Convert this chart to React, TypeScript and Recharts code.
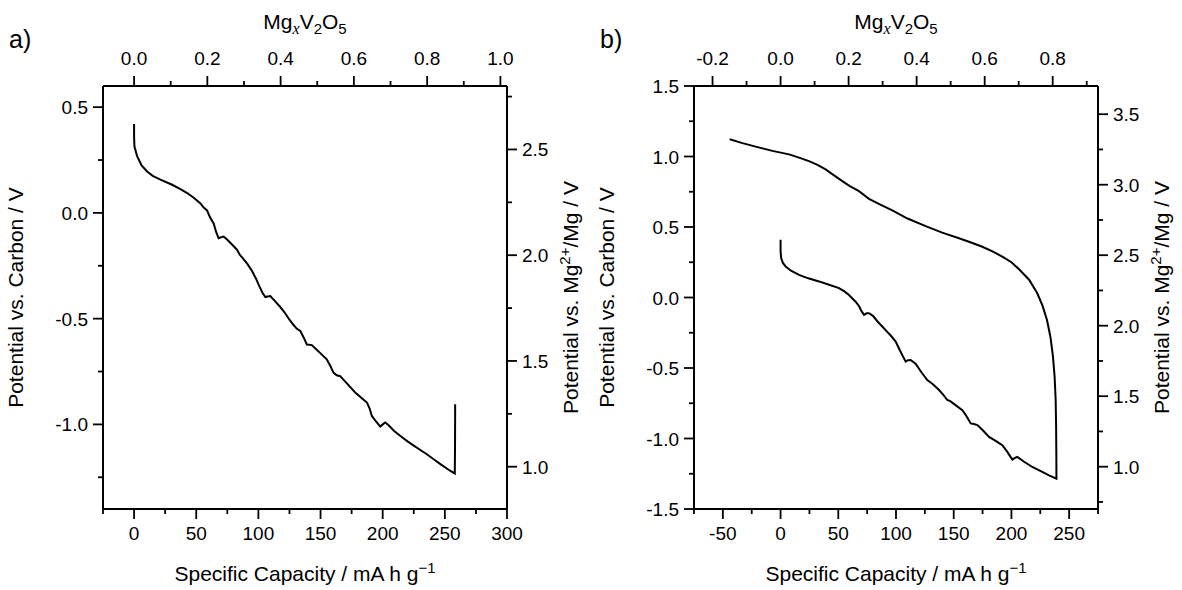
import React from "react";
import { LineChart, Line, XAxis, YAxis } from "recharts";

// capacity (mA h g-1) that corresponds to x = 1 in MgxV2O5
const CAP_PER_MG = 294.7;
// offset between the two potential scales (Mg2+/Mg minus carbon)
const REF_OFFSET = 2.2;

// panel a: first discharge
const A_CAP = [
	0, 0, 0.3, 2.5, 6, 10.5, 15, 21.2, 30.6, 37.3, 42.7, 48, 53.4, 56, 58.7, 61, 64, 66, 68, 70, 72, 74.8, 78, 82.8,
	85, 86.9, 91, 94.9, 98, 101, 103.5, 105.6, 107.5, 109.6, 113, 117.6, 121, 125, 128.3, 131, 133.7, 136.5, 139, 141,
	143, 146.5, 149.8, 155, 158, 160.4, 163, 165.8, 171, 177.9, 183, 187.3, 189.5, 191.3, 194.5, 198, 200, 202, 205,
	209, 214, 220, 225, 230, 235.5, 241, 247, 254.2, 258, 258.2, 258.3,
];
const A_POT = [
	0.42, 0.36, 0.314, 0.267, 0.225, 0.196, 0.175, 0.157, 0.133, 0.112, 0.094, 0.072, 0.045, 0.025, 0.012, -0.02,
	-0.05, -0.09, -0.12, -0.115, -0.112, -0.126, -0.145, -0.174, -0.198, -0.21, -0.24, -0.275, -0.31, -0.35, -0.38,
	-0.398, -0.395, -0.393, -0.415, -0.445, -0.47, -0.505, -0.53, -0.548, -0.558, -0.59, -0.622, -0.623, -0.625,
	-0.645, -0.663, -0.692, -0.725, -0.755, -0.768, -0.772, -0.805, -0.849, -0.875, -0.897, -0.925, -0.96, -0.985,
	-1.01, -1.0, -0.991, -1.005, -1.03, -1.054, -1.08, -1.1, -1.12, -1.141, -1.165, -1.19, -1.219, -1.232, -1.1,
	-0.905,
];

// panel b: discharge followed by charge
const B_CAP = [
	0, 0, 0.5, 2, 4.4, 9, 16, 24, 33.3, 42, 50.6, 55, 59, 62, 65, 67.9, 70, 72.3, 74.5, 76.6, 80, 84, 88.1, 92, 96,
	99.7, 102.5, 105.5, 108.4, 110.5, 112.7, 117, 122, 127.1, 132, 137.3, 141, 144.5, 147, 151, 157.5, 161, 164.7,
	167.5, 170.5, 175, 180.6, 186, 192.1, 196, 200.8, 203, 205.1, 211, 218.1, 225, 232.6, 239, 238.9, 238.7, 238.3,
	237.4, 236, 233.8, 230.8, 227, 222.4, 215.3, 206.6, 200, 192.1, 184, 174.8, 165, 154.6, 140, 125.7, 110, 96.8, 86,
	76.6, 67.9, 60, 53.5, 46, 39, 32, 24.6, 16, 7.3, -7, -21.6, -33, -44.1,
];
const B_POT = [
	0.41, 0.33, 0.28, 0.245, 0.22, 0.19, 0.16, 0.136, 0.114, 0.09, 0.067, 0.045, 0.02, -0.005, -0.03, -0.06, -0.095,
	-0.123, -0.112, -0.111, -0.13, -0.17, -0.206, -0.24, -0.275, -0.313, -0.36, -0.41, -0.455, -0.445, -0.443, -0.47,
	-0.53, -0.585, -0.615, -0.656, -0.69, -0.727, -0.735, -0.76, -0.799, -0.84, -0.893, -0.897, -0.905, -0.94,
	-0.989, -1.015, -1.048, -1.09, -1.149, -1.137, -1.131, -1.165, -1.202, -1.23, -1.261, -1.285, -1.1, -0.9, -0.72,
	-0.56, -0.42, -0.28, -0.16, -0.06, 0.03, 0.126, 0.2, 0.25, 0.29, 0.325, 0.36, 0.39, 0.42, 0.46, 0.506, 0.56, 0.618,
	0.66, 0.7, 0.754, 0.79, 0.825, 0.868, 0.908, 0.94, 0.967, 0.992, 1.015, 1.04, 1.07, 1.095, 1.122,
];

// tick values
const A_BOTTOM_MAJOR = [0, 50, 100, 150, 200, 250, 300];
const A_BOTTOM_MINOR = [-25, 25, 75, 125, 175, 225, 275];
const A_TOP_MAJOR = [0, 0.2, 0.4, 0.6, 0.8, 1.0];
const A_TOP_MINOR = [0.1, 0.3, 0.5, 0.7, 0.9];
const A_LEFT_MAJOR = [-1.0, -0.5, 0, 0.5];
const A_LEFT_MINOR = [-1.25, -0.75, -0.25, 0.25];
const A_RIGHT_MAJOR = [1.0, 1.5, 2.0, 2.5];
const A_RIGHT_MINOR = [1.25, 1.75, 2.25, 2.75];

const B_BOTTOM_MAJOR = [-50, 0, 50, 100, 150, 200, 250];
const B_BOTTOM_MINOR = [-75, -25, 25, 75, 125, 175, 225, 275];
const B_TOP_MAJOR = [-0.2, 0, 0.2, 0.4, 0.6, 0.8];
const B_TOP_MINOR = [-0.1, 0.1, 0.3, 0.5, 0.7, 0.9];
const B_LEFT_MAJOR = [-1.5, -1.0, -0.5, 0, 0.5, 1.0, 1.5];
const B_LEFT_MINOR = [-1.25, -0.75, -0.25, 0.25, 0.75, 1.25];
const B_RIGHT_MAJOR = [1.0, 1.5, 2.0, 2.5, 3.0, 3.5];
const B_RIGHT_MINOR = [0.75, 1.25, 1.75, 2.25, 2.75, 3.25];

const FONT = '"Liberation Sans", Arial, Helvetica, sans-serif';
const TICK_FS = 19;
const TITLE_FS = 21;

type Side = "top" | "bottom" | "left" | "right";

const fmt1 = (v: number) => v.toFixed(1);
const fmt0 = (v: number) => String(v);

function makeTick(side: Side, majors: number[], fmt: (v: number) => string) {
	return (props: any) => {
		const { x, y, payload } = props;
		const v = payload.value;
		const major = majors.some((m) => Math.abs(m - v) < 1e-6);
		const len = major ? 10 : 5;
		const ln = { stroke: "#000", strokeWidth: 1.8 };
		let line;
		let label = null;
		const tp = { fontFamily: FONT, fontSize: TICK_FS, fill: "#000" };
		if (side === "bottom") {
			line = <line x1={x} y1={y} x2={x} y2={y + len} {...ln} />;
			if (major)
				label = (
					<text x={x} y={y + 31} textAnchor="middle" {...tp}>
						{fmt(v)}
					</text>
				);
		} else if (side === "top") {
			line = <line x1={x} y1={y} x2={x} y2={y - len} {...ln} />;
			if (major)
				label = (
					<text x={x} y={y - 21} textAnchor="middle" {...tp}>
						{fmt(v)}
					</text>
				);
		} else if (side === "left") {
			line = <line x1={x} y1={y} x2={x - len} y2={y} {...ln} />;
			if (major)
				label = (
					<text x={x - 15} y={y + 7} textAnchor="end" {...tp}>
						{fmt(v)}
					</text>
				);
		} else {
			line = <line x1={x} y1={y} x2={x + len} y2={y} {...ln} />;
			if (major)
				label = (
					<text x={x + 15} y={y + 7} textAnchor="start" {...tp}>
						{fmt(v)}
					</text>
				);
		}
		return (
			<g>
				{line}
				{label}
			</g>
		);
	};
}

const titleProps = { fontFamily: FONT, fontSize: TITLE_FS, fill: "#000" };

function TopTitle({ viewBox, tag }: any) {
	const cx = viewBox.x + viewBox.width / 2;
	const y = viewBox.y - 27;
	return (
		<g>
			<text x={cx} y={y} textAnchor="middle" {...titleProps}>
				Mg
				<tspan dy={5} fontSize={16} fontStyle="italic" fontFamily='"Liberation Serif", "Times New Roman", serif'>
					x
				</tspan>
				<tspan dy={-5}>V</tspan>
				<tspan dy={5} fontSize={15}>
					2
				</tspan>
				<tspan dy={-5}>O</tspan>
				<tspan dy={5} fontSize={15}>
					5
				</tspan>
			</text>
			<text x={viewBox.x - 94} y={viewBox.y - 8} {...titleProps} fontSize={25}>
				{tag}
			</text>
		</g>
	);
}

function BottomTitle({ viewBox }: any) {
	const cx = viewBox.x + viewBox.width / 2;
	return (
		<text x={cx} y={viewBox.y + 72} textAnchor="middle" {...titleProps}>
			Specific Capacity / mA h g
			<tspan dy={-8} fontSize={15}>
				−1
			</tspan>
		</text>
	);
}

function LeftTitle({ viewBox }: any) {
	const x = viewBox.x - 20;
	const y = viewBox.y + viewBox.height / 2;
	return (
		<text x={x} y={y} transform={`rotate(-90, ${x}, ${y})`} textAnchor="middle" {...titleProps}>
			Potential vs. Carbon / V
		</text>
	);
}

function RightTitle({ viewBox }: any) {
	const x = viewBox.x + 71;
	const y = viewBox.y + viewBox.height / 2;
	return (
		<text x={x} y={y} transform={`rotate(-90, ${x}, ${y})`} textAnchor="middle" {...titleProps}>
			Potential vs. Mg
			<tspan dy={-8} fontSize={15}>
				2+
			</tspan>
			<tspan dy={8}>/Mg / V</tspan>
		</text>
	);
}

interface PanelProps {
	tag: string;
	cap: number[];
	pot: number[];
	xDomain: [number, number];
	yDomain: [number, number];
	bottom: [number[], number[]];
	top: [number[], number[]];
	left: [number[], number[]];
	right: [number[], number[]];
}

function Panel({ tag, cap, pot, xDomain, yDomain, bottom, top, left, right }: PanelProps) {
	const data = cap.map((c, i) => ({ cap: c, mg: c / CAP_PER_MG, pot: pot[i], potMg: pot[i] + REF_OFFSET }));
	const axisLine = { stroke: "#000", strokeWidth: 2 };
	const sorted = (a: number[], b: number[]) => [...a, ...b].sort((p, q) => p - q);
	return (
		<LineChart width={591} height={590} data={data} margin={{ top: 56, right: 24, bottom: 51, left: 43 }}>
			<XAxis
				xAxisId="bottom"
				dataKey="cap"
				type="number"
				orientation="bottom"
				domain={xDomain}
				allowDataOverflow
				ticks={sorted(bottom[0], bottom[1])}
				interval={0}
				height={30}
				tickSize={0}
				tickMargin={0}
				tickLine={false}
				axisLine={axisLine}
				tick={makeTick("bottom", bottom[0], fmt0)}
				label={{ content: (p: any) => <BottomTitle viewBox={p.viewBox} /> }}
			/>
			<XAxis
				xAxisId="top"
				dataKey="mg"
				type="number"
				orientation="top"
				domain={[xDomain[0] / CAP_PER_MG, xDomain[1] / CAP_PER_MG]}
				allowDataOverflow
				ticks={sorted(top[0], top[1])}
				interval={0}
				height={30}
				tickSize={0}
				tickMargin={0}
				tickLine={false}
				axisLine={axisLine}
				tick={makeTick("top", top[0], fmt1)}
				label={{ content: (p: any) => <TopTitle viewBox={p.viewBox} tag={tag} /> }}
			/>
			<YAxis
				yAxisId="left"
				type="number"
				orientation="left"
				domain={yDomain}
				allowDataOverflow
				ticks={sorted(left[0], left[1])}
				interval={0}
				width={60}
				tickSize={0}
				tickMargin={0}
				tickLine={false}
				axisLine={axisLine}
				tick={makeTick("left", left[0], fmt1)}
				label={{ content: (p: any) => <LeftTitle viewBox={p.viewBox} /> }}
			/>
			<YAxis
				yAxisId="right"
				type="number"
				orientation="right"
				domain={[yDomain[0] + REF_OFFSET, yDomain[1] + REF_OFFSET]}
				allowDataOverflow
				ticks={sorted(right[0], right[1])}
				interval={0}
				width={60}
				tickSize={0}
				tickMargin={0}
				tickLine={false}
				axisLine={axisLine}
				tick={makeTick("right", right[0], fmt1)}
				label={{ content: (p: any) => <RightTitle viewBox={p.viewBox} /> }}
			/>
			<Line
				xAxisId="bottom"
				yAxisId="left"
				dataKey="pot"
				type="linear"
				stroke="#000"
				strokeWidth={2}
				dot={false}
				activeDot={false}
				isAnimationActive={false}
			/>
		</LineChart>
	);
}

export default function App() {
	return (
		<div style={{ position: "absolute", left: 0, top: 0, width: 1182, height: 590, background: "#fff", display: "flex" }}>
			<Panel
				tag="a)"
				cap={A_CAP}
				pot={A_POT}
				xDomain={[-25, 300]}
				yDomain={[-1.4, 0.6]}
				bottom={[A_BOTTOM_MAJOR, A_BOTTOM_MINOR]}
				top={[A_TOP_MAJOR, A_TOP_MINOR]}
				left={[A_LEFT_MAJOR, A_LEFT_MINOR]}
				right={[A_RIGHT_MAJOR, A_RIGHT_MINOR]}
			/>
			<Panel
				tag="b)"
				cap={B_CAP}
				pot={B_POT}
				xDomain={[-75, 275]}
				yDomain={[-1.5, 1.5]}
				bottom={[B_BOTTOM_MAJOR, B_BOTTOM_MINOR]}
				top={[B_TOP_MAJOR, B_TOP_MINOR]}
				left={[B_LEFT_MAJOR, B_LEFT_MINOR]}
				right={[B_RIGHT_MAJOR, B_RIGHT_MINOR]}
			/>
		</div>
	);
}
